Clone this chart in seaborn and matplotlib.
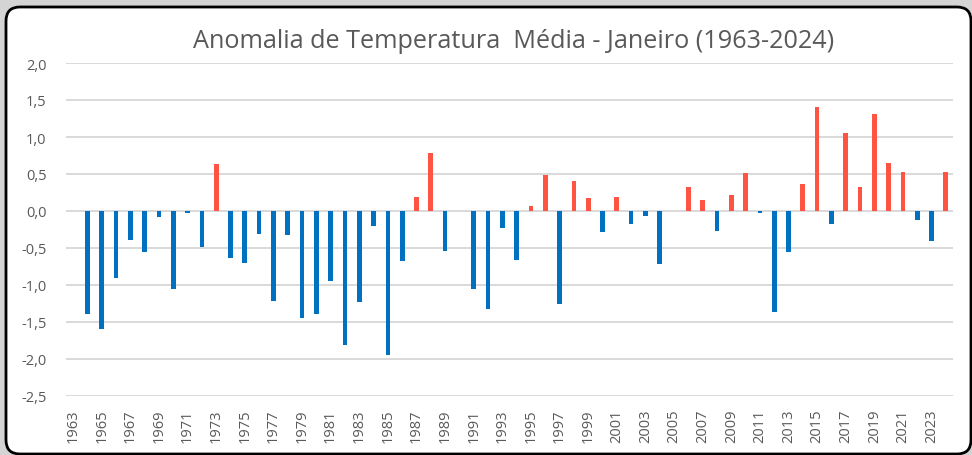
import matplotlib
matplotlib.use('Agg')
import matplotlib.pyplot as plt
import seaborn as sns
import pandas as pd
from matplotlib.patches import FancyBboxPatch
from matplotlib.ticker import FuncFormatter, FixedLocator

years = [1963, 1964, 1965, 1966, 1967, 1968, 1969, 1970, 1971, 1972,
         1973, 1974, 1975, 1976, 1977, 1978, 1979, 1980, 1981, 1982,
         1983, 1984, 1985, 1986, 1987, 1988, 1989, 1990, 1991, 1992,
         1993, 1994, 1995, 1996, 1997, 1998, 1999, 2000, 2001, 2002,
         2003, 2004, 2005, 2006, 2007, 2008, 2009, 2010, 2011, 2012,
         2013, 2014, 2015, 2016, 2017, 2018, 2019, 2020, 2021, 2022,
         2023, 2024]
anomalies = [0.00, -1.39, -1.59, -0.91, -0.39, -0.55, -0.08, -1.05, -0.03, -0.49,
             0.63, -0.64, -0.70, -0.31, -1.22, -0.32, -1.44, -1.39, -0.95, -1.81,
             -1.23, -0.20, -1.94, -0.68, 0.19, 0.79, -0.54, 0.00, -1.05, -1.32,
             -0.23, -0.66, 0.07, 0.49, -1.26, 0.40, 0.18, -0.28, 0.19, -0.18,
             -0.07, -0.72, 0.00, 0.32, 0.15, -0.27, 0.21, 0.52, -0.03, -1.36,
             -0.55, 0.36, 1.41, -0.18, 1.06, 0.33, 1.31, 0.65, 0.53, -0.12,
             -0.41, 0.53]
title = "Anomalia de Temperatura  Média - Janeiro (1963-2024)"

df = pd.DataFrame({"ano": [str(y) for y in years], "anomalia": anomalies})
df["sinal"] = ["pos" if v > 0 else "neg" for v in anomalies]

sns.set_style("white")
plt.rcParams['font.family'] = ['Open Sans', 'DejaVu Sans']

fig = plt.figure(figsize=(9.72, 4.56), dpi=100)
fig.patch.set_facecolor('#d4d4d4')

# white rounded chart area with black border
box = FancyBboxPatch((6 + 14, 1 + 14), 965 - 28, 447 - 28,
                     boxstyle="round,pad=14", transform=None,
                     facecolor='white', edgecolor='black', linewidth=2.0,
                     zorder=-10)
fig.patches.append(box)

W, H = 972, 456
ax = fig.add_axes([66 / W, 1 - 397 / H, (953 - 66) / W, (397 - 64) / H])
ax.set_zorder(5)
ax.set_facecolor('none')

sns.barplot(data=df, x="ano", y="anomalia", hue="sinal",
            palette={"pos": "#FF5443", "neg": "#0070C0"},
            order=df["ano"].tolist(), dodge=False, width=0.33,
            legend=False, ax=ax, zorder=3, saturation=1, linewidth=0)

ax.set_ylim(-2.5, 2.0)
ax.set_xlim(-0.5, len(years) - 0.5)
ax.set_yticks([2.0, 1.5, 1.0, 0.5, 0.0, -0.5, -1.0, -1.5, -2.0, -2.5])
ax.yaxis.set_major_formatter(FuncFormatter(lambda v, p: f"{v:.1f}".replace('.', ',')))
ax.grid(axis='y', color='#d9d9d9', linewidth=1.4, zorder=0)
ax.grid(axis='x', visible=False)
ax.set_axisbelow(True)
for s in ax.spines.values():
    s.set_visible(False)

xt = list(range(0, len(years), 2))
ax.xaxis.set_major_locator(FixedLocator(xt))
ax.set_xticklabels([df["ano"][i] for i in xt], rotation=90)
ax.tick_params(axis='x', length=0, pad=9, labelsize=10.5, labelcolor='#595959')
ax.tick_params(axis='y', length=0, pad=14, labelsize=10.5, labelcolor='#595959')
ax.set_xlabel("")
ax.set_ylabel("")

fig.text(514 / W, 1 - 42 / H, title, ha='center', va='center',
         fontsize=18.2, color='#595959')

fig.savefig("out.png", dpi=100, facecolor=fig.get_facecolor())
